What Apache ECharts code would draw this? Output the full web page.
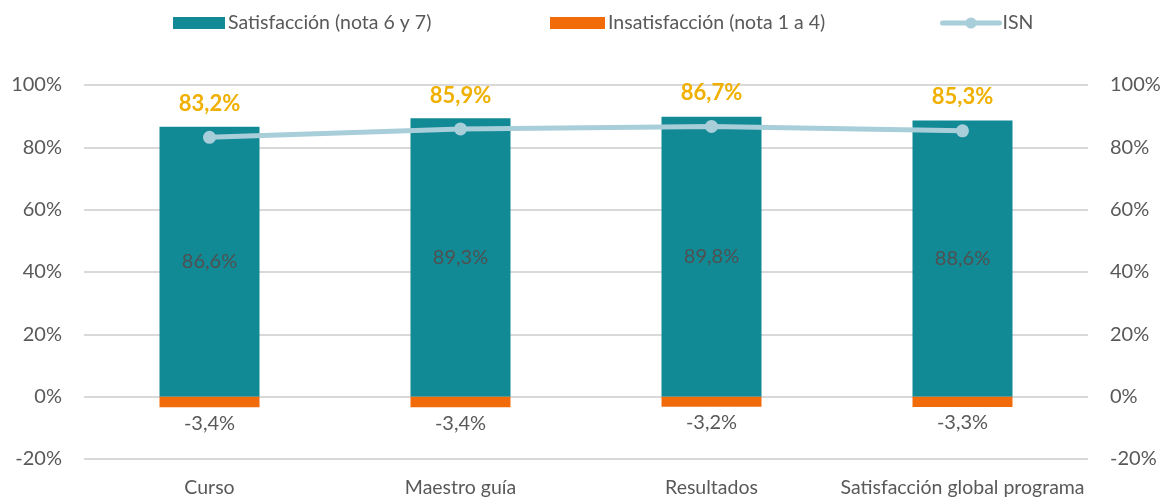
<!DOCTYPE html>
<html>
<head>
<meta charset="utf-8">
<script src="https://cdn.jsdelivr.net/npm/echarts@6/dist/echarts.min.js"></script>
<style>
  html, body { margin: 0; padding: 0; background: #fff; }
  #chart { width: 1166px; height: 498px; }
</style>
</head>
<body>
<div id="chart"></div>
<script>
// datos
const categorias = ['Curso', 'Maestro guía', 'Resultados', 'Satisfacción global programa']
const satisfaccion = [86.6, 89.3, 89.8, 88.6]
const insatisfaccion = [-3.4, -3.4, -3.2, -3.3]
const isn = [83.2, 85.9, 86.7, 85.3]

const fuente = 'Lato'
const gris = '#595959'
const fmt = v => v.toFixed(1).replace('.', ',') + '%'

const chart = echarts.init(document.getElementById('chart'))

const yAxisBase = {
  type: 'value',
  min: -20,
  max: 100,
  interval: 20,
  axisLine: { show: false },
  axisTick: { show: false },
  axisLabel: {
    formatter: '{value}%',
    color: gris,
    fontSize: 20,
    fontFamily: fuente,
    margin: 22
  }
}

const legendBase = {
  top: 13,
  padding: 0,
  itemHeight: 12,
  itemGap: 0,
  textStyle: { color: gris, fontSize: 19.5, fontFamily: fuente, padding: [0, 0, 0, -2] }
}

chart.setOption({
  animation: false,
  textStyle: { fontFamily: fuente },
  legend: [
    Object.assign({}, legendBase, {
      left: 173, itemWidth: 52,
      data: [{ name: 'Satisfacción (nota 6 y 7)', icon: 'rect' }]
    }),
    Object.assign({}, legendBase, {
      left: 550, itemWidth: 55,
      data: [{ name: 'Insatisfacción (nota 1 a 4)', icon: 'rect' }]
    }),
    Object.assign({}, legendBase, {
      left: 940, itemWidth: 57, itemHeight: 14,
      lineStyle: { width: 5, color: '#A8CEDA', cap: 'round' },
      data: [{ name: 'ISN' }]
    })
  ],
  grid: {
    left: 84,
    right: 78,
    top: 85,
    bottom: 39
  },
  xAxis: {
    type: 'category',
    data: categorias,
    axisLine: { show: false },
    axisTick: { show: false },
    axisLabel: {
      interval: 0,
      color: gris,
      fontSize: 19.5,
      fontFamily: fuente,
      margin: 19
    }
  },
  yAxis: [
    Object.assign({}, yAxisBase, {
      position: 'left',
      splitLine: { lineStyle: { color: '#d9d9d9', width: 2 } }
    }),
    Object.assign({}, yAxisBase, {
      position: 'right',
      splitLine: { show: false }
    })
  ],
  series: [
    {
      name: 'Satisfacción (nota 6 y 7)',
      type: 'bar',
      stack: 'total',
      barWidth: 100,
      data: satisfaccion,
      itemStyle: { color: '#118A96' },
      label: {
        show: true,
        position: 'inside',
        color: '#505050',
        textBorderWidth: 0,
        textBorderColor: 'transparent',
        fontSize: 20,
        fontFamily: fuente,
        formatter: p => fmt(p.value)
      }
    },
    {
      name: 'Insatisfacción (nota 1 a 4)',
      type: 'bar',
      stack: 'total',
      barWidth: 100,
      data: insatisfaccion,
      itemStyle: { color: '#F26B0B' },
      label: {
        show: true,
        position: 'bottom',
        distance: 6,
        color: gris,
        fontSize: 20,
        fontFamily: fuente,
        formatter: p => fmt(p.value)
      }
    },
    {
      name: 'ISN',
      type: 'line',
      data: isn,
      symbol: 'circle',
      symbolSize: 13,
      lineStyle: { color: '#A8CEDA', width: 5 },
      itemStyle: { color: '#A8CEDA' },
      label: {
        show: true,
        position: 'top',
        distance: 16,
        color: '#F0B000',
        fontSize: 22,
        fontWeight: 'bold',
        fontFamily: fuente,
        formatter: p => fmt(p.value)
      },
      z: 5
    }
  ]
})
</script>
</body>
</html>
